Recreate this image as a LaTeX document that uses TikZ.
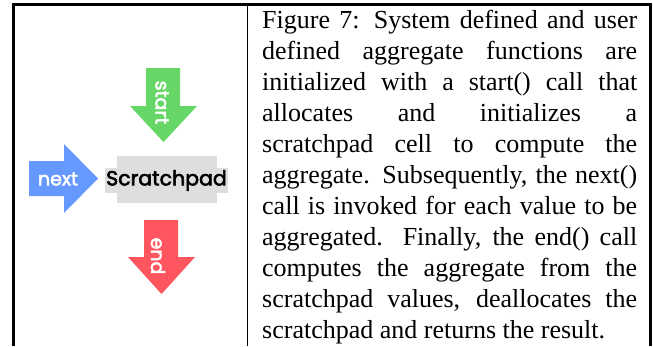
\documentclass[tikz,border=0pt]{standalone}
\usepackage{fontspec}
\setmainfont{Liberation Serif}
\newfontfamily\gothic{Poppins}[FakeBold=2.6]
\definecolor{startgreen}{RGB}{102,214,102}
\definecolor{nextblue}{RGB}{102,153,255}
\definecolor{endred}{RGB}{255,85,95}
\definecolor{padgray}{RGB}{222,222,222}
\begin{document}
\begin{tikzpicture}[x=1bp,y=-1bp]
\tikzset{
  frameline/.style={line width=3bp, black},
  dividerline/.style={line width=1bp, black},
  arrowlabel/.style={text=white, inner sep=0pt, font=\gothic\fontsize{19bp}{19bp}\selectfont},
  padlabel/.style={fill=padgray, inner sep=0pt, minimum width=123bp, minimum height=25bp, font=\gothic\fontsize{20.5bp}{20.5bp}\selectfont},
  captiontext/.style={inner sep=0pt, text width=375bp, align=justify, font=\fontsize{26bp}{31bp}\selectfont}
}
\useasboundingbox (0,0) rectangle (653,346);
% frame
\draw[frameline] (13.5,346) -- (13.5,4.5) -- (650.5,4.5) -- (650.5,346);
\draw[dividerline] (247.5,6) -- (247.5,346);
% arrows
\fill[startgreen] (146,68) -- (180,68) -- (180,106) -- (197,106) -- (163.5,142) -- (130,106) -- (146,106) -- cycle;
\fill[nextblue] (29,161) -- (64,161) -- (64,144) -- (98,178.5) -- (64,213) -- (64,196) -- (29,196) -- cycle;
\fill[endred] (144,220) -- (178,220) -- (178,257) -- (195,257) -- (161.5,294) -- (128,257) -- (144,257) -- cycle;
% scratchpad
\fill[padgray] (117,156) rectangle (217,203);
\node[padlabel] (pad) at (166.5,180.5) {Scratchpad};
\node[arrowlabel, rotate=-90] (startlbl) at (162,102.5) {start};
\node[arrowlabel] (nextlbl) at (58,179) {next};
\node[arrowlabel, rotate=-90] (endlbl) at (158,256) {end};
% caption
\node[captiontext, anchor=base west] (caption) at (262,28) {Figure 7: System defined and user\linebreak defined aggregate functions are\linebreak initialized with a start() call that\linebreak allocates and initializes a\linebreak scratchpad cell to compute the\linebreak aggregate. Subsequently, the next()\linebreak call is invoked for each value to be\linebreak aggregated. Finally, the end() call\linebreak computes the aggregate from the\linebreak scratchpad values, deallocates the\linebreak scratchpad and returns the result.};
\end{tikzpicture}
\end{document}
